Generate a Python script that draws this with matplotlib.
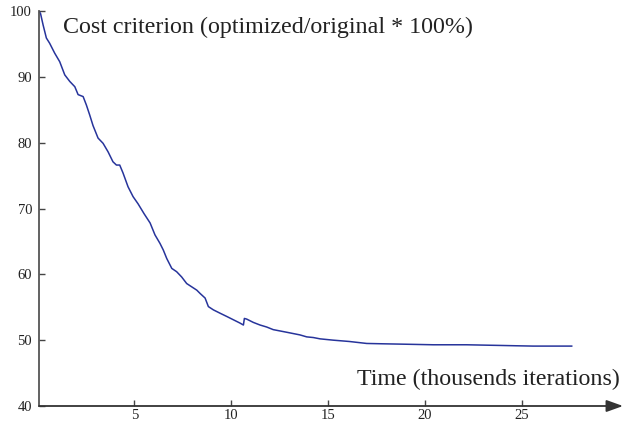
import matplotlib
matplotlib.use("Agg")
import matplotlib.pyplot as plt

# Data (time in thousand iterations, cost in %)
time_k = [0.07, 0.15, 0.28, 0.45, 0.62, 0.88, 1.14, 1.40, 1.66, 1.92, 2.09, 2.35,
          2.52, 2.69, 2.86, 3.12, 3.38, 3.64, 3.89, 4.07, 4.24, 4.41, 4.67, 4.93,
          5.19, 5.50, 5.81, 6.06, 6.32, 6.49, 6.67, 6.93, 7.18, 7.44, 7.70, 7.96,
          8.22, 8.39, 8.65, 8.82, 9.08, 9.42, 9.77, 10.11, 10.45, 10.63, 10.68,
          10.80, 11.14, 11.49, 11.83, 12.17, 12.52, 12.87, 13.21, 13.55, 13.90,
          14.24, 14.59, 14.93, 15.27, 16.10, 17.00, 17.80, 18.72, 19.60, 20.44,
          21.30, 22.16, 23.00, 23.88, 24.70, 25.60, 26.60, 27.59]
cost = [100.0, 99.6, 97.9, 95.9, 95.1, 93.6, 92.3, 90.3, 89.3, 88.5, 87.3, 87.0,
        85.7, 84.2, 82.6, 80.7, 79.9, 78.6, 77.1, 76.6, 76.6, 75.4, 73.3, 71.8,
        70.7, 69.2, 67.8, 66.0, 64.7, 63.7, 62.4, 60.9, 60.4, 59.6, 58.6, 58.1,
        57.6, 57.1, 56.4, 55.1, 54.6, 54.1, 53.6, 53.1, 52.6, 52.3, 53.3,
        53.2, 52.7, 52.3, 52.0, 51.6, 51.4, 51.2, 51.0, 50.8, 50.5,
        50.4, 50.2, 50.1, 50.0, 49.8, 49.5, 49.45, 49.4, 49.35, 49.3,
        49.3, 49.3, 49.25, 49.2, 49.15, 49.1, 49.1, 49.1]

x_ticks = [5, 10, 15, 20, 25]
y_ticks = [40, 50, 60, 70, 80, 90, 100]

title_text = "Cost criterion (optimized/original * 100%)"
xlabel_text = "Time (thousends iterations)"

plt.rcParams['font.family'] = ['Liberation Serif', 'DejaVu Serif']

fig = plt.figure(figsize=(6.24, 4.23), dpi=100)
ax = fig.add_axes([39 / 624, 1 - 406 / 423, 584 / 624, (406 - 11) / 423])

ax.plot(time_k, cost, color='#27349b', lw=1.1)

ax.set_xlim(0.07, 30.24)
ax.set_ylim(40, 100)
ax.set_xticks(x_ticks)
ax.set_yticks(y_ticks)
ax.tick_params(direction='in', length=4, width=1, colors='#444444',
               labelcolor='#222222', labelsize=10.5)
ax.tick_params(axis='y', pad=5)
ax.tick_params(axis='x', pad=2.5)

for s in ['top', 'right', 'bottom']:
    ax.spines[s].set_visible(False)
ax.spines['left'].set_color('#555555')
ax.spines['left'].set_linewidth(1.3)

ax.annotate('', xy=(1.0, 0), xytext=(0, 0), xycoords='axes fraction',
            textcoords='axes fraction',
            arrowprops=dict(arrowstyle='-|>,head_length=1.0,head_width=0.36',
                            color='#333333', lw=1.3, shrinkA=0, shrinkB=0),
            annotation_clip=False)

fig.text(63 / 624, 1 - 33 / 423, title_text, fontsize=17.3, color='#222222',
         ha='left', va='baseline')
fig.text(357 / 624, 1 - 385 / 423, xlabel_text, fontsize=17.3, color='#222222',
         ha='left', va='baseline')

fig.savefig('out.png', dpi=100)
